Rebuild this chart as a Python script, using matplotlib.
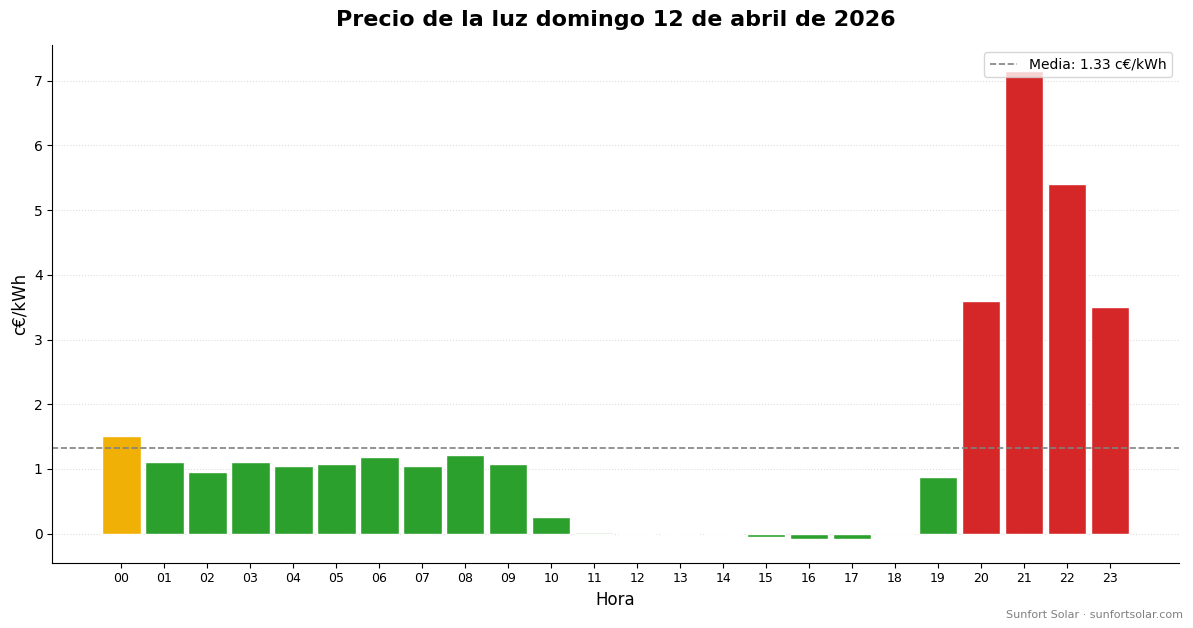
import matplotlib
matplotlib.use("Agg")
import matplotlib.pyplot as plt

hours = [f"{h:02d}" for h in range(24)]
prices = [1.51,1.10,0.95,1.10,1.05,1.08,1.18,1.05,1.22,1.08,0.25,0.02,0.0,0.0,0.0,-0.05,-0.08,-0.08,0.0,0.88,3.60,7.15,5.40,3.51]
colors = ["#f0b005"] + ["#2ca02c"]*10 + ["#d5ecd5"] + ["#2ca02c"]*8 + ["#d62728"]*4
mean = 1.33

fig, ax = plt.subplots(figsize=(11.93, 6.28), dpi=100)
fig.subplots_adjust(left=0.044, right=0.988, top=0.928, bottom=0.104)
ax.bar(range(24), prices, color=colors, edgecolor="white", linewidth=1, width=0.9)
ax.axhline(mean, color="gray", linestyle="--", linewidth=1.2, label=f"Media: {mean:.2f} c€/kWh")
ax.set_xticks(range(24))
ax.set_xticklabels(hours, fontsize=9)
ax.set_xlim(-1.6, 24.6)
ax.set_ylim(-0.45, 7.55)
ax.grid(axis="y", linestyle=":", color="#dddddd", linewidth=0.8)
ax.set_axisbelow(True)
ax.spines["top"].set_visible(False)
ax.spines["right"].set_visible(False)
ax.set_xlabel("Hora", fontsize=12)
ax.set_ylabel("c€/kWh", fontsize=12)
ax.set_title("Precio de la luz domingo 12 de abril de 2026", fontsize=16, fontweight="bold", pad=14)
ax.legend(loc="upper right", fontsize=10)
fig.text(0.992, 0.012, "Sunfort Solar · sunfortsolar.com", ha="right", va="bottom", fontsize=8, color="gray")
fig.savefig("out.png")
